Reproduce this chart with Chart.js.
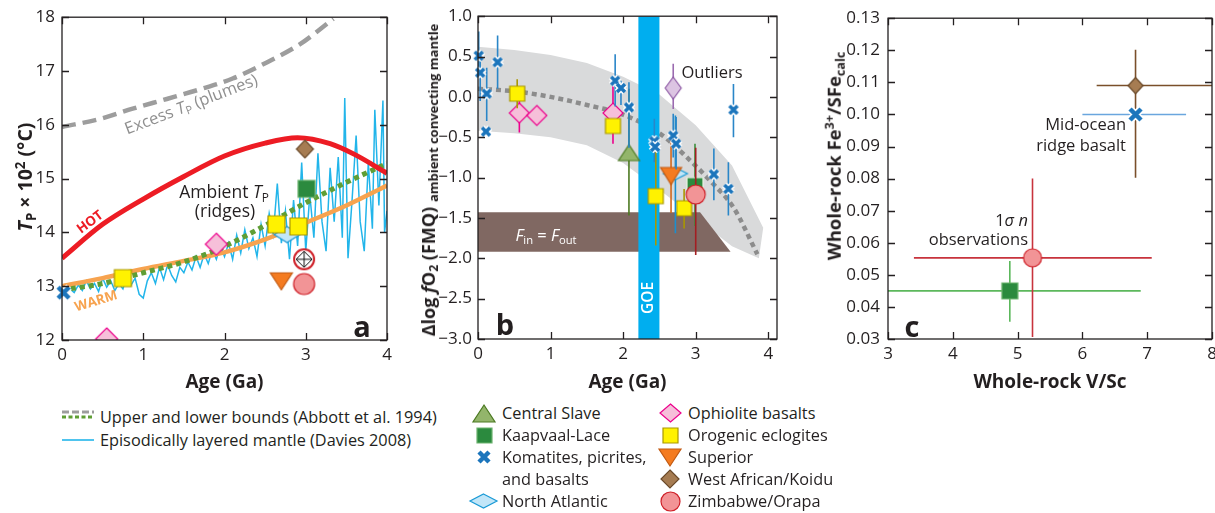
<!DOCTYPE html>
<html>
<head>
<meta charset="utf-8">
<script src="https://cdn.jsdelivr.net/npm/chart.js@4.4.1/dist/chart.umd.min.js"></script>
<style>
  body { margin: 0; width: 1215px; height: 513px; overflow: hidden; position: relative; background: #fff;
         font-family: "Open Sans", sans-serif; color: #231f20; }
  canvas.chart { position: absolute; top: 0; }
  .lbl { position: absolute; white-space: nowrap; line-height: 1; font-size: 16.5px; z-index: 5;
         transform: translate(-50%, -50%); }
  .r { transform: translate(-100%, -50%); }
  .b { font-weight: bold; }
  sub { font-size: 68%; vertical-align: -0.28em; line-height: 0; }
  sup { font-size: 68%; vertical-align: 0.55em; line-height: 0; }
  .leg { position: absolute; white-space: nowrap; font-size: 16.3px; line-height: 1; transform: translateY(-50%); }
  .sym { position: absolute; }
</style>
</head>
<body>
<canvas id="chartA" class="chart" width="400" height="400" style="left:0"></canvas>
<canvas id="chartB" class="chart" width="390" height="400" style="left:400px"></canvas>
<canvas id="chartC" class="chart" width="425" height="400" style="left:800px"></canvas>

<!-- panel a text -->
<div class="lbl b" style="left:25px;top:177px;font-size:19.5px;transform:translate(-50%,-50%) rotate(-90deg)"><i>T</i><sub>P</sub> × 10<sup>2</sup> (°C)</div>
<div class="lbl" style="left:191px;top:104px;color:#8f8f8f;transform:translate(-50%,-50%) rotate(-21deg)">Excess <i>T</i><sub>P</sub> (plumes)</div>
<div class="lbl b" style="left:90px;top:222px;color:#ed1c24;font-size:13.5px;transform:translate(-50%,-50%) rotate(-37deg)">HOT</div>
<div class="lbl b" style="left:96px;top:301px;color:#f7a34f;font-size:13.5px;transform:translate(-50%,-50%) rotate(-17deg)">WARM</div>
<div class="lbl" style="left:224px;top:192px;font-size:17.5px">Ambient <i>T</i><sub>P</sub></div>
<div class="lbl" style="left:225px;top:211px;font-size:17.5px">(ridges)</div>
<div class="lbl b" style="left:362px;top:325px;font-size:29px">a</div>

<!-- panel b text -->
<div class="lbl b" style="left:428px;top:180px;font-size:18px;transform:translate(-50%,-50%) rotate(-90deg)">Δlog <i>f</i>O<sub>2</sub> (FMQ) <span style="font-size:13px;position:relative;top:3px">ambient convecting mantle</span></div>
<div class="lbl" style="left:712px;top:72px">Outliers</div>
<div class="lbl" style="left:546px;top:235px;color:#fff"><i>F</i><sub>in</sub> = <i>F</i><sub>out</sub></div>
<div class="lbl" style="left:648px;top:298px;color:#fff;font-size:15.5px;font-weight:600;transform:translate(-50%,-50%) rotate(-90deg)">GOE</div>
<div class="lbl b" style="left:505px;top:323px;font-size:29px">b</div>

<!-- panel c text -->
<div class="lbl b" style="left:834px;top:156px;font-size:18.5px;transform:translate(-50%,-50%) rotate(-90deg)">Whole-rock Fe<sup>3+</sup>/SFe<sub>calc</sub></div>
<div class="lbl r" style="left:1126px;top:124px">Mid-ocean</div>
<div class="lbl r" style="left:1126px;top:145px">ridge basalt</div>
<div class="lbl r" style="left:1028px;top:220px">1<i>σ</i> <i>n</i></div>
<div class="lbl r" style="left:1028px;top:239px">observations</div>
<div class="lbl b" style="left:912px;top:325px;font-size:29px">c</div>

<div id="legend"></div>

<script>
// ---------- panel a: mantle potential temperature (Tp x 10^2 °C) vs age (Ga) ----------
const plumeAge = [0, 0.47, 0.87, 1.29, 1.7, 2.1, 2.52, 2.93, 3.34];
const plumeTp = [15.96, 16.11, 16.3, 16.48, 16.66, 16.86, 17.16, 17.5, 17.97];
const hotAge = [0, 0.5, 1, 1.5, 2, 2.5, 2.9, 3.3, 3.6, 4];
const hotTp = [13.52, 14.15, 14.62, 15.04, 15.42, 15.66, 15.76, 15.65, 15.45, 15.1];
const warmAge = [0, 0.5, 1, 1.5, 2, 2.5, 3, 3.5, 4];
const warmTp = [13.0, 13.15, 13.32, 13.47, 13.63, 13.87, 14.18, 14.5, 14.87];
const abbottAge = [0, 0.5, 1, 1.5, 2, 2.5, 3, 3.5, 4];
const abbottTp = [12.93, 13.05, 13.25, 13.45, 13.74, 14.13, 14.55, 14.93, 15.28];
const daviesAge = [0, 0.05, 0.1, 0.15, 0.2, 0.25, 0.3, 0.35, 0.4, 0.45, 0.5, 0.55, 0.6, 0.65, 0.7, 0.75, 0.8, 0.85, 0.9, 0.95,
  1.0, 1.05, 1.1, 1.15, 1.2, 1.25, 1.3, 1.35, 1.4, 1.45, 1.5, 1.55, 1.6, 1.65, 1.7, 1.75, 1.8, 1.85, 1.9, 1.95,
  2.0, 2.05, 2.1, 2.15, 2.2, 2.25, 2.3, 2.35, 2.4, 2.45, 2.5, 2.55, 2.6, 2.65, 2.7, 2.75, 2.8, 2.85, 2.9, 2.95,
  3.0, 3.05, 3.1, 3.15, 3.2, 3.25, 3.3, 3.35, 3.4, 3.45, 3.48, 3.52, 3.57, 3.62, 3.67, 3.72, 3.77, 3.82, 3.85, 3.9,
  3.95, 3.97, 4.0];
const daviesTp = [12.8, 12.85, 12.95, 12.88, 13.02, 12.92, 13.1, 12.95, 13.05, 12.9, 13.15, 12.98, 13.1, 12.92, 13.05, 12.95, 13.2, 13.02, 13.15, 12.85,
  12.78, 13.1, 13.25, 13.05, 13.35, 13.12, 13.4, 13.2, 13.08, 13.35, 13.25, 13.45, 13.3, 13.55, 13.35, 13.6, 13.42, 13.68, 13.5, 13.75,
  13.55, 13.8, 13.5, 13.95, 13.62, 14.05, 13.7, 13.9, 13.55, 14.15, 13.75, 14.35, 13.96, 14.91, 13.8, 14.4, 13.5, 14.6, 13.75, 15.3,
  13.65, 14.7, 13.9, 15.47, 14.2, 13.65, 15.2, 14.2, 15.4, 13.9, 16.5, 13.52, 14.6, 15.8, 14.2, 13.65, 15.3, 14.07, 16.28, 14.5,
  16.45, 14.0, 14.4];

const komAgeA = [0.02], komTpA = [12.88];
const eclAgeA = [0.75, 2.64, 2.91], eclTpA = [13.15, 14.15, 14.11];
const ophAgeA = [0.55, 1.9], ophTpA = [12.02, 13.78];
const natAgeA = [2.77], natTpA = [13.96];
const zimAgeA = [2.98], zimTpA = [13.04];
const zimOpenAgeA = [2.98], zimOpenTpA = [13.5];
const supAgeA = [2.7], supTpA = [13.09];
const kaaAgeA = [3.01], kaaTpA = [14.81];
const wafAgeA = [2.99], wafTpA = [15.55];

// ---------- panel b: Δlog fO2 (FMQ) vs age ----------
const bandUpAge = [0, 0.5, 1, 1.5, 2, 2.5, 3, 3.5, 3.93];
const bandUp = [0.62, 0.58, 0.52, 0.42, 0.25, 0.03, -0.35, -0.85, -1.62];
const bandLoAge = [3.87, 3.5, 3.0, 2.5, 2.0, 1.5, 1.0, 0.5, 0];
const bandLo = [-2.0, -1.85, -1.5, -1.15, -0.82, -0.6, -0.5, -0.45, -0.42];
const fluxAge = [0, 3.06, 3.48, 0];
const fluxFo2 = [-1.43, -1.43, -1.92, -1.92];
const goeAge = [2.21, 2.21, 2.5, 2.5];
const goeFo2 = [-3, 1, 1, -3];
const trendAge = [0, 0.5, 1, 1.5, 2, 2.5, 2.88, 3.2, 3.52, 3.85];
const trendFo2 = [0.1, 0.07, 0.0, -0.1, -0.22, -0.45, -0.75, -1.04, -1.37, -1.95];

const komAgeB = [0.01, 0.03, 0.12, 0.11, 0.27, 1.89, 1.97, 2.08, 2.43, 2.44, 2.69, 2.73, 3.25, 3.45, 3.52];
const komFo2B = [0.51, 0.30, 0.04, -0.43, 0.43, 0.20, 0.11, -0.13, -0.55, -0.62, -0.48, -0.58, -0.96, -1.14, -0.16];
const komLoB = [0.25, -0.05, -0.30, null, 0.10, -0.12, -0.10, -0.63, -0.81, null, -0.75, -0.90, -1.28, -1.47, -0.50];
const komHiB = [0.81, 0.50, 0.36, null, 0.76, 0.53, 0.20, 0.18, -0.27, null, -0.21, -0.25, -0.64, -0.81, 0.16];
const eclAgeB = [0.54, 1.86, 2.45, 2.84], eclFo2B = [0.04, -0.36, -1.23, -1.38];
const eclLoB = [-0.14, null, -1.84, -1.63], eclHiB = [0.22, null, -0.67, -1.14];
const ophAgeB = [0.57, 0.81, 1.86], ophFo2B = [-0.2, -0.23, -0.2];
const ophLoB = [-0.44, null, -0.58], ophHiB = [0.04, null, 0.14];
const slaAgeB = [2.08], slaFo2B = [-0.69], slaLoB = [-1.47], slaHiB = [0.1];
const supAgeB = [2.66], supFo2B = [-0.98], supLoB = [-1.44], supHiB = [-0.44];
const natAgeB = [2.72], natFo2B = [-0.95], natLoB = [-1.69], natHiB = [-0.23];
const kaaAgeB = [2.99], kaaFo2B = [-1.1], kaaLoB = [-1.6], kaaHiB = [-0.58];
const zimAgeB = [3.0], zimFo2B = [-1.21], zimLoB = [-1.96], zimHiB = [-0.63];
const outAgeB = [2.69], outFo2B = [0.11], outLoB = [-0.15], outHiB = [0.41];

// ---------- panel c: Fe3+/ΣFe vs V/Sc ----------
const wafVScC = [6.82], wafFeC = [0.109], wafXLoC = [6.22], wafXHiC = [8.6], wafYLoC = [0.0803], wafYHiC = [0.1202];
const morVScC = [6.82], morFeC = [0.100], morXLoC = [6.0], morXHiC = [7.6];
const zimVScC = [5.23], zimFeC = [0.0553], zimXLoC = [3.4], zimXHiC = [7.07], zimYLoC = [0.0306], zimYHiC = [0.080];
const kaaVScC = [4.88], kaaFeC = [0.045], kaaXLoC = [2.8], kaaXHiC = [6.9], kaaYLoC = [0.0354], kaaYHiC = [0.0543];

const INK = '#231f20';
Chart.defaults.font.family = '"Open Sans", sans-serif';
Chart.defaults.color = INK;

// marker images
function mk(shape, fill, stroke, w, h, lw) {
  h = h || w; lw = lw || 1.2;
  const pad = 4, c = document.createElement('canvas');
  c.width = Math.ceil(w + pad * 2); c.height = Math.ceil(h + pad * 2);
  const g = c.getContext('2d');
  g.translate(c.width / 2, c.height / 2);
  g.fillStyle = fill; g.strokeStyle = stroke; g.lineWidth = lw;
  const hw = w / 2, hh = h / 2;
  if (shape === 'cross') {
    const path = () => { g.beginPath(); g.moveTo(-hw, -hh); g.lineTo(hw, hh); g.moveTo(-hw, hh); g.lineTo(hw, -hh); };
    path(); g.strokeStyle = '#fff'; g.lineWidth = lw + 3; g.stroke();
    path(); g.strokeStyle = fill; g.lineWidth = lw; g.stroke();
    return c;
  }
  g.beginPath();
  if (shape === 'square') g.rect(-hw, -hh, w, h);
  else if (shape === 'diamond') { g.moveTo(0, -hh); g.lineTo(hw, 0); g.lineTo(0, hh); g.lineTo(-hw, 0); g.closePath(); }
  else if (shape === 'triUp') { g.moveTo(0, -hh); g.lineTo(hw, hh); g.lineTo(-hw, hh); g.closePath(); }
  else if (shape === 'triDown') { g.moveTo(-hw, -hh); g.lineTo(hw, -hh); g.lineTo(0, hh); g.closePath(); }
  else g.arc(0, 0, hw, 0, Math.PI * 2);
  g.fill(); g.stroke();
  if (shape === 'circleCross') {
    const r = hw - 2;
    g.strokeStyle = '#111'; g.lineWidth = 1;
    g.beginPath(); g.moveTo(0, -r); g.lineTo(r, 0); g.lineTo(0, r); g.lineTo(-r, 0); g.closePath();
    g.moveTo(-r, 0); g.lineTo(r, 0); g.moveTo(0, -r); g.lineTo(0, r); g.stroke();
  }
  return c;
}

const C = {
  kom: ['#1b75bc', '#1b75bc'], ecl: ['#fff200', '#a99700'], oph: ['#f6bfd9', '#ec008c'],
  nat: ['#c2e6f8', '#1a9ad6'], zim: ['#f29496', '#cf2129'], sup: ['#f47b20', '#c25a12'],
  kaa: ['#2b8a3e', '#6db36f'], waf: ['#a67c52', '#6b4a2a'], sla: ['#93b56b', '#4c7a22'], out: ['#dcc4e2', '#8e5aa5']
};

const pts = (xs, ys) => xs.map((x, i) => ({ x: x, y: ys[i] }));

function marker(xs, ys, img, extra) {
  return Object.assign({ data: pts(xs, ys), pointStyle: img, pointRadius: 9, pointHoverRadius: 9,
    showLine: false, clip: false }, extra || {});
}
function curve(xs, ys, color, width, dash, straight) {
  return { data: pts(xs, ys), showLine: true, pointRadius: 0, borderColor: color, borderWidth: width,
    borderDash: dash || [], tension: straight ? 0 : 0.4, cubicInterpolationMode: straight ? 'default' : 'monotone',
    fill: false, clip: 0 };
}
function shape(xs, ys, color) {
  return { data: pts(xs, ys), showLine: true, pointRadius: 0, borderWidth: 0, borderColor: color,
    backgroundColor: color, fill: 'shape', tension: 0, clip: 0 };
}

// error bars drawn right before each dataset's markers
const errorBars = {
  id: 'errorBars',
  beforeDatasetDraw(chart, args) {
    const ds = chart.data.datasets[args.index];
    if (!ds.yLo && !ds.xLo) return;
    const { ctx, chartArea: a, scales: { x, y } } = chart;
    ctx.save();
    ctx.beginPath(); ctx.rect(a.left, a.top, a.right - a.left, a.bottom - a.top); ctx.clip();
    ctx.strokeStyle = ds.errColor; ctx.lineWidth = ds.errWidth || 1.6;
    ds.data.forEach((p, i) => {
      ctx.beginPath();
      if (ds.yLo && ds.yLo[i] != null) {
        const px = x.getPixelForValue(p.x);
        ctx.moveTo(px, y.getPixelForValue(ds.yLo[i])); ctx.lineTo(px, y.getPixelForValue(ds.yHi[i]));
      }
      if (ds.xLo && ds.xLo[i] != null) {
        const py = y.getPixelForValue(p.y);
        ctx.moveTo(x.getPixelForValue(ds.xLo[i]), py); ctx.lineTo(x.getPixelForValue(ds.xHi[i]), py);
      }
      ctx.stroke();
    });
    ctx.restore();
  }
};

// box frame with inward ticks on all four sides
const frame = {
  id: 'frame',
  afterDraw(chart) {
    const { ctx, chartArea: a, scales: { x, y } } = chart;
    const t = 7;
    ctx.save();
    ctx.strokeStyle = INK; ctx.lineWidth = 1.3;
    ctx.strokeRect(a.left, a.top, a.right - a.left, a.bottom - a.top);
    ctx.beginPath();
    x.ticks.forEach(tk => {
      const px = Math.round(x.getPixelForValue(tk.value)) + 0.5;
      ctx.moveTo(px, a.bottom); ctx.lineTo(px, a.bottom - t);
      ctx.moveTo(px, a.top); ctx.lineTo(px, a.top + t);
    });
    y.ticks.forEach(tk => {
      const py = Math.round(y.getPixelForValue(tk.value)) + 0.5;
      ctx.moveTo(a.left, py); ctx.lineTo(a.left + t, py);
      ctx.moveTo(a.right, py); ctx.lineTo(a.right - t, py);
    });
    ctx.stroke();
    ctx.restore();
  }
};

function axis(min, max, step, fmt, pad, size, isX, title) {
  return {
    type: 'linear', min: min, max: max,
    ticks: { stepSize: step, includeBounds: false, padding: pad, maxRotation: 0, autoSkip: false,
      font: { size: 17 }, color: INK, callback: fmt },
    grid: { display: false, drawTicks: false },
    border: { display: false },
    title: title ? { display: true, text: title, color: INK, font: { size: 19, weight: 'bold' }, padding: { top: 0, bottom: 6 } }
                 : { display: false },
    afterFit: s => { if (isX) s.height = size; else s.width = size; }
  };
}

function build(id, datasets, padding, xAxis, yAxis) {
  return new Chart(document.getElementById(id), {
    type: 'scatter',
    data: { datasets: datasets.reverse() },   // listed bottom-first, Chart.js draws index 0 on top
    options: {
      responsive: false, animation: false, devicePixelRatio: 1,
      layout: { padding: padding },
      plugins: { legend: { display: false }, tooltip: { enabled: false } },
      scales: { x: xAxis, y: yAxis }
    },
    plugins: [errorBars, frame]
  });
}

const intFmt = v => String(v);
const minus = v => (v < 0 ? '\u2212' : '') + Math.abs(v).toFixed(1);

// panel a
build('chartA', [
  curve(plumeAge, plumeTp, '#9d9d9d', 4.5, [14, 7]),
  curve(daviesAge, daviesTp, '#22b5ea', 1.5, [], true),
  curve(warmAge, warmTp, '#f7a34f', 4.5),
  curve(abbottAge, abbottTp, '#5f9e35', 5, [5, 4]),
  curve(hotAge, hotTp, '#ed1c24', 5),
  marker(zimOpenAgeA, zimOpenTpA, mk('circleCross', '#ffffff', '#cf2129', 20, 20, 2)),
  marker(zimAgeA, zimTpA, mk('circle', C.zim[0], C.zim[1], 21)),
  marker(supAgeA, supTpA, mk('triDown', C.sup[0], C.sup[1], 22, 17)),
  marker(natAgeA, natTpA, mk('diamond', C.nat[0], C.nat[1], 26, 16)),
  marker(eclAgeA, eclTpA, mk('square', C.ecl[0], C.ecl[1], 17)),
  marker(ophAgeA, ophTpA, mk('diamond', C.oph[0], C.oph[1], 22, 22), { clip: 0 }),
  marker(kaaAgeA, kaaTpA, mk('square', C.kaa[0], C.kaa[1], 17)),
  marker(wafAgeA, wafTpA, mk('diamond', C.waf[0], C.waf[1], 17, 18)),
  marker(komAgeA, komTpA, mk('cross', C.kom[0], C.kom[1], 11, 11, 4.5))
], { top: 15, right: 13, left: 0, bottom: 0 },
  axis(0, 4, 1, intFmt, 5, 60, true, 'Age (Ga)'),
  axis(12, 18, 1, intFmt, 7, 62, false));

// panel b
const errB = (lo, hi, col) => ({ yLo: lo, yHi: hi, errColor: col });
build('chartB', [
  shape(bandUpAge.concat(bandLoAge), bandUp.concat(bandLo), '#d9dadb'),
  shape(fluxAge, fluxFo2, '#806862'),
  curve(trendAge, trendFo2, '#8c8c8c', 4.5, [5, 4]),
  shape(goeAge, goeFo2, '#00aeef'),
  marker(outAgeB, outFo2B, mk('diamond', C.out[0], C.out[1], 16, 22), errB(outLoB, outHiB, '#9b6bb0')),
  marker(ophAgeB, ophFo2B, mk('diamond', C.oph[0], C.oph[1], 20, 20), errB(ophLoB, ophHiB, '#ec008c')),
  marker(eclAgeB, eclFo2B, mk('square', C.ecl[0], C.ecl[1], 15), errB(eclLoB, eclHiB, '#a99700')),
  marker(slaAgeB, slaFo2B, mk('triUp', C.sla[0], C.sla[1], 21, 16), errB(slaLoB, slaHiB, '#4c7a22')),
  marker(natAgeB, natFo2B, mk('diamond', C.nat[0], C.nat[1], 24, 12), errB(natLoB, natHiB, '#1a8fd0')),
  marker(supAgeB, supFo2B, mk('triDown', C.sup[0], C.sup[1], 21, 17), errB(supLoB, supHiB, '#d2691e')),
  marker(kaaAgeB, kaaFo2B, mk('square', C.kaa[0], '#e6f2e0', 16), errB(kaaLoB, kaaHiB, '#3d8f3d')),
  marker(zimAgeB, zimFo2B, mk('circle', C.zim[0], C.zim[1], 19), errB(zimLoB, zimHiB, '#a31e22')),
  marker(komAgeB, komFo2B, mk('cross', C.kom[0], C.kom[1], 8, 8, 3.5), errB(komLoB, komHiB, '#2a86c8'))
], { top: 15, right: 13, left: 0, bottom: 0 },
  axis(0, 4.12, 1, intFmt, 5, 61, true, 'Age (Ga)'),
  axis(-3, 1, 0.5, minus, 6, 78, false));

// panel c
build('chartC', [
  marker(kaaVScC, kaaFeC, mk('square', C.kaa[0], '#6db36f', 16),
    { xLo: kaaXLoC, xHi: kaaXHiC, yLo: kaaYLoC, yHi: kaaYHiC, errColor: '#5cb85c' }),
  marker(zimVScC, zimFeC, mk('circle', C.zim[0], C.zim[1], 18),
    { xLo: zimXLoC, xHi: zimXHiC, yLo: zimYLoC, yHi: zimYHiC, errColor: '#c8333d' }),
  marker(wafVScC, wafFeC, mk('diamond', C.waf[0], C.waf[1], 15, 16),
    { xLo: wafXLoC, xHi: wafXHiC, yLo: wafYLoC, yHi: wafYHiC, errColor: '#7a4f2a' }),
  marker(morVScC, morFeC, mk('cross', C.kom[0], C.kom[1], 11, 11, 4.5),
    { xLo: morXLoC, xHi: morXHiC, errColor: '#6aa6de' })
], { top: 16, right: 13, left: 0, bottom: 0 },
  axis(3, 8, 1, intFmt, 5, 61, true, 'Whole-rock V/Sc'),
  axis(0.03, 0.13, 0.01, v => v.toFixed(2), 8, 88, false));

// ---------- legends ----------
const leg = document.getElementById('legend');
function place(el, x, y) { el.className = 'sym'; el.style.left = (x - el.width / 2) + 'px'; el.style.top = (y - el.height / 2) + 'px'; leg.appendChild(el); }
function text(html, x, y) { const d = document.createElement('div'); d.className = 'leg'; d.style.left = x + 'px'; d.style.top = y + 'px'; d.innerHTML = html; leg.appendChild(d); }

const lineSym = document.createElement('canvas');
lineSym.width = 34; lineSym.height = 14;
(function () {
  const g = lineSym.getContext('2d');
  g.lineWidth = 3; g.strokeStyle = '#9d9d9d'; g.setLineDash([7, 3]);
  g.beginPath(); g.moveTo(1, 4); g.lineTo(33, 4); g.stroke();
  g.strokeStyle = '#5f9e35'; g.setLineDash([4, 2.5]);
  g.beginPath(); g.moveTo(1, 9); g.lineTo(33, 9); g.stroke();
})();
place(lineSym, 78, 415);
text('Upper and lower bounds (Abbott et al. 1994)', 100, 417);
const cyanSym = document.createElement('canvas');
cyanSym.width = 34; cyanSym.height = 6;
(function () { const g = cyanSym.getContext('2d'); g.strokeStyle = '#22b5ea'; g.lineWidth = 1.6; g.beginPath(); g.moveTo(1, 3); g.lineTo(33, 3); g.stroke(); })();
place(cyanSym, 78, 440);
text('Episodically layered mantle (Davies 2008)', 100, 440);

place(mk('triUp', C.sla[0], C.sla[1], 22, 17), 484, 413); text('Central Slave', 502, 413);
place(mk('square', C.kaa[0], C.kaa[1], 15), 484, 435); text('Kaapvaal-Lace', 502, 435);
place(mk('cross', C.kom[0], C.kom[1], 10, 10, 4.5), 484, 457); text('Komatites, picrites,', 502, 457);
text('and basalts', 502, 479);
place(mk('diamond', C.nat[0], C.nat[1], 27, 14), 483, 501); text('North Atlantic', 502, 501);
place(mk('diamond', C.oph[0], C.oph[1], 21, 18), 670, 413); text('Ophiolite basalts', 688, 413);
place(mk('square', C.ecl[0], C.ecl[1], 15), 670, 435); text('Orogenic eclogites', 688, 435);
place(mk('triDown', C.sup[0], C.sup[1], 22, 17), 670, 457); text('Superior', 688, 457);
place(mk('diamond', C.waf[0], C.waf[1], 18, 18), 670, 479); text('West African/Koidu', 688, 479);
place(mk('circle', C.zim[0], C.zim[1], 19), 670, 501); text('Zimbabwe/Orapa', 688, 501);
</script>
</body>
</html>
